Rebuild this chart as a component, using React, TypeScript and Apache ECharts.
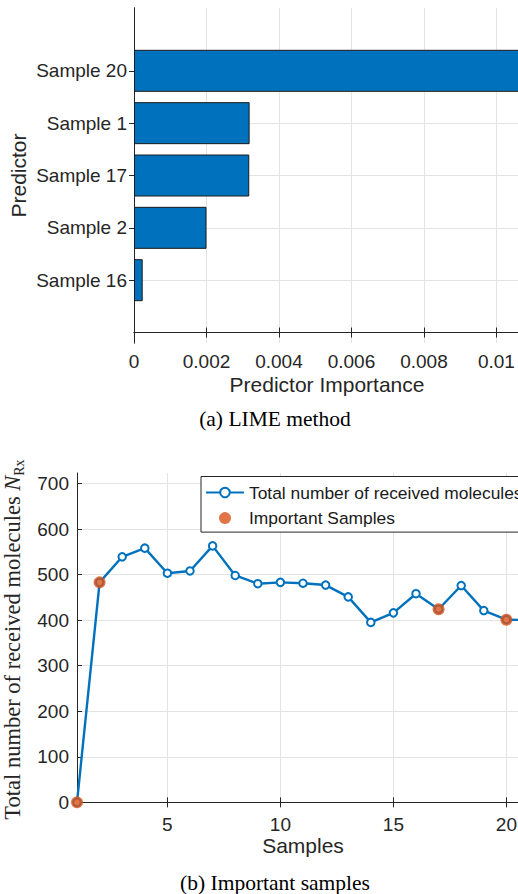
import React, { useEffect, useRef } from "react";
import * as echarts from "echarts";

// ---- (a) LIME method ----
const predictors = ["Sample 20", "Sample 1", "Sample 17", "Sample 2", "Sample 16"];
const importance = [0.0118, 0.00319, 0.00318, 0.002, 0.00024];
const importanceTicks = [0, 0.002, 0.004, 0.006, 0.008, 0.01];
const predictorTickPos = [1, 2, 3, 4, 5];

// ---- (b) Important samples ----
const samples = [1, 2, 3, 4, 5, 6, 7, 8, 9, 10, 11, 12, 13, 14, 15, 16, 17, 18, 19, 20, 21];
const received = [0, 483, 539, 558, 503, 508, 563, 498, 480, 483, 481, 477, 451, 395, 416, 458, 424, 476, 421, 401, 400];
const importantSamples = [1, 2, 17, 20];
const sampleTicks = [5, 10, 15, 20];
const countTicks = [0, 100, 200, 300, 400, 500, 600, 700];

const LINE_NAME = "Total number of received molecules";
const DOT_NAME = "Important Samples";

const BLUE = "#0072BD";
const ORANGE = "#D95319";
const AX = "#262626";
const GRIDC = "#e3e3e3";
const sans = "'Liberation Sans', Arial, Helvetica, sans-serif";
const serif = "'Liberation Serif', 'Times New Roman', serif";

const XMAX_A = 0.01065;

const axisLine = { show: true, lineStyle: { color: AX, width: 1 } };
const ticks = (values: number[]) => ({
  show: true,
  inside: true,
  length: 5,
  customValues: values,
  lineStyle: { color: AX, width: 1 },
});
const labelBase = { color: AX, fontSize: 19, fontFamily: sans };
const split = { show: true, lineStyle: { color: GRIDC, width: 1 } };
const noLabel = { show: false };
const noSplit = { show: false };

export default function App() {
  const ref = useRef<HTMLDivElement>(null);
  useEffect(() => {
    if (!ref.current) return;
    const chart = echarts.init(ref.current, null, { renderer: "svg" });
    const option: any = {
      animation: false,
      backgroundColor: "#fff",
      grid: [
        { left: 134, top: 8, width: 386, height: 335, outerBoundsMode: "none" },
        { left: 134, top: 44.65, width: 386, height: 261.7, outerBoundsMode: "none" },
        { left: 77, top: 473, width: 452, height: 333, outerBoundsMode: "none" },
      ],
      xAxis: [
        {
          type: "value",
          gridIndex: 0,
          min: 0,
          max: XMAX_A,
          position: "bottom",
          axisLine,
          axisTick: ticks(importanceTicks),
          axisLabel: {
            ...labelBase,
            margin: 9,
            customValues: importanceTicks,
            formatter: (v: number) => String(Number(v.toFixed(4))),
          },
          splitLine: split,
          name: "Predictor Importance",
          nameLocation: "middle",
          nameGap: 31,
          nameTextStyle: { color: AX, fontSize: 21, fontFamily: sans },
        },
        {
          type: "value",
          gridIndex: 0,
          min: 0,
          max: XMAX_A,
          position: "top",
          axisLine,
          axisTick: ticks(importanceTicks),
          axisLabel: noLabel,
          splitLine: noSplit,
        },
        { type: "value", gridIndex: 1, min: 0, max: XMAX_A, show: false },
        {
          type: "value",
          gridIndex: 2,
          min: 1,
          max: 21,
          position: "bottom",
          axisLine,
          axisTick: ticks(sampleTicks),
          axisLabel: { ...labelBase, margin: 9, customValues: sampleTicks },
          splitLine: split,
          name: "Samples",
          nameLocation: "middle",
          nameGap: 29,
          nameTextStyle: { color: AX, fontSize: 21, fontFamily: sans },
        },
        {
          type: "value",
          gridIndex: 2,
          min: 1,
          max: 21,
          position: "top",
          axisLine,
          axisTick: ticks(sampleTicks),
          axisLabel: noLabel,
          splitLine: noSplit,
        },
      ],
      yAxis: [
        {
          type: "value",
          gridIndex: 0,
          min: -0.2,
          max: 6.2,
          position: "left",
          axisLine,
          axisTick: ticks(predictorTickPos),
          axisLabel: noLabel,
          splitLine: split,
          name: "Predictor",
          nameLocation: "middle",
          nameRotate: 90,
          nameGap: 105,
          nameTextStyle: { color: AX, fontSize: 21, fontFamily: sans },
        },
        {
          type: "value",
          gridIndex: 0,
          min: -0.2,
          max: 6.2,
          position: "right",
          axisLine,
          axisTick: ticks(predictorTickPos),
          axisLabel: noLabel,
          splitLine: noSplit,
        },
        {
          type: "category",
          gridIndex: 1,
          data: predictors,
          inverse: true,
          axisLine: { show: false },
          axisTick: { show: false },
          axisLabel: { ...labelBase, margin: 7 },
          splitLine: noSplit,
        },
        {
          type: "value",
          gridIndex: 2,
          min: -8,
          max: 723,
          position: "left",
          axisLine,
          axisTick: ticks(countTicks),
          axisLabel: { ...labelBase, margin: 8, customValues: countTicks },
          splitLine: split,
          name: "Total number of received molecules {n|N}{s|Rx}",
          nameLocation: "middle",
          nameRotate: 90,
          nameGap: 37,
          nameTextStyle: {
            color: AX,
            fontSize: 22.5,
            fontFamily: serif,
            lineHeight: 28,
            rich: {
              n: { color: AX, fontSize: 22.5, fontFamily: serif, fontStyle: "italic", lineHeight: 28 },
              s: { color: AX, fontSize: 14, fontFamily: serif, lineHeight: 14, verticalAlign: "bottom" },
            },
          },
        },
        {
          type: "value",
          gridIndex: 2,
          min: -8,
          max: 723,
          position: "right",
          axisLine,
          axisTick: ticks(countTicks),
          axisLabel: noLabel,
          splitLine: noSplit,
        },
      ],
      legend: {
        orient: "vertical",
        left: 201,
        top: 476.5,
        data: [LINE_NAME, DOT_NAME],
        itemWidth: 38,
        itemHeight: 12,
        itemGap: 5.6,
        padding: [6, 10, 4, 4],
        borderColor: AX,
        borderWidth: 1,
        borderRadius: 0,
        backgroundColor: "#fff",
        selectedMode: false,
        textStyle: { color: "#1a1a1a", fontSize: 17.4, fontFamily: sans, lineHeight: 20 },
      },
      series: [
        {
          type: "bar",
          xAxisIndex: 2,
          yAxisIndex: 2,
          data: importance,
          barWidth: 42,
          clip: true,
          itemStyle: { color: BLUE, borderColor: "#1a1a1a", borderWidth: 1 },
        },
        {
          type: "line",
          name: LINE_NAME,
          xAxisIndex: 3,
          yAxisIndex: 3,
          data: samples.map((s, i) => [s, received[i]]),
          symbol: "emptyCircle",
          symbolSize: 7.5,
          clip: true,
          z: 2,
          lineStyle: { color: BLUE, width: 2.4 },
          itemStyle: { color: BLUE, borderWidth: 1.7 },
        },
        {
          type: "scatter",
          name: DOT_NAME,
          xAxisIndex: 3,
          yAxisIndex: 3,
          data: importantSamples.map((s) => [s, received[samples.indexOf(s)]]),
          symbolSize: 12,
          clip: false,
          z: 5,
          itemStyle: { color: ORANGE },
        },
      ],
      graphic: [
        {
          type: "text",
          x: 275,
          y: 419,
          style: {
            text: "(a) LIME method",
            font: `21.5px ${serif}`,
            fill: "#000",
            align: "center",
            verticalAlign: "middle",
            textAlign: "center",
            textVerticalAlign: "middle",
          },
        },
        {
          type: "text",
          x: 275,
          y: 883,
          style: {
            text: "(b) Important samples",
            font: `21.5px ${serif}`,
            fill: "#000",
            align: "center",
            verticalAlign: "middle",
            textAlign: "center",
            textVerticalAlign: "middle",
          },
        },
      ],
    };
    chart.setOption(option);
    return () => chart.dispose();
  }, []);
  return (
    <div
      style={{
        position: "fixed",
        left: 0,
        top: 0,
        width: 518,
        height: 894,
        overflow: "hidden",
        background: "#fff",
      }}
    >
      <div ref={ref} style={{ width: 540, height: 894 }} />
    </div>
  );
}
